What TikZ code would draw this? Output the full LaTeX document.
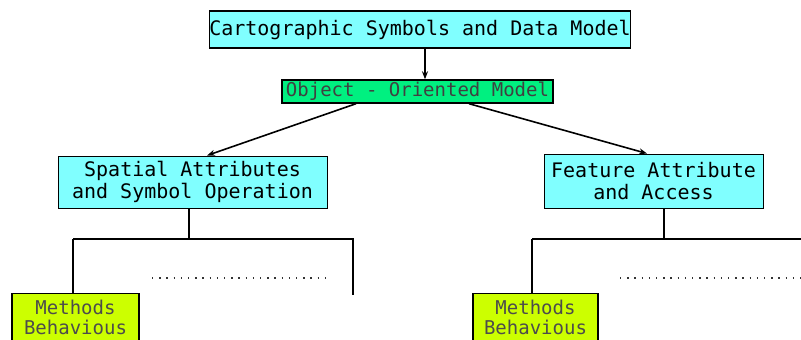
\documentclass[tikz,border=0pt]{standalone}
\usepackage{fontspec}
\newfontfamily\boxfont{DejaVu Sans Mono}
\usetikzlibrary{arrows.meta}
\definecolor{cyanbox}{HTML}{80FFFF}
\definecolor{greenbox}{HTML}{00F080}
\definecolor{limebox}{HTML}{CCFF00}
\begin{document}
\begin{tikzpicture}[x=1pt,y=-1pt,
  box/.style={draw=black, line width=1.4pt, inner sep=0pt, align=center, text=black},
  cyanb/.style={box, fill=cyanbox, font=\boxfont\fontsize{20}{22}\selectfont},
  greenb/.style={box, fill=greenbox, text=black!75, font=\boxfont\fontsize{19}{22}\selectfont},
  limeb/.style={box, fill=limebox, text=black!70, font=\boxfont\fontsize{19}{20}\selectfont},
  conn/.style={line width=1.2pt, black},
  arr/.style={line width=1.6pt, black, -{Stealth[length=8pt,width=6pt]}},
  dots/.style={line width=1.4pt, dash pattern=on 1.4pt off 5.8pt, black!80}]
\useasboundingbox (0,0) rectangle (801,340);
\begin{scope}
\clip (0,0) rectangle (801,340);
\node[cyanb, minimum width=420pt, minimum height=37pt] (top) at (420,29.5) {Cartographic Symbols and Data Model};
\node[greenb, minimum width=271pt, minimum height=23pt] (obj) at (417.5,91.5) {Object - Oriented Model};
\node[cyanb, line width=1pt, minimum width=269pt, minimum height=52pt] (sp) at (192.5,182) {Spatial Attributes\\and Symbol Operation};
\node[cyanb, line width=1pt, minimum width=219pt, minimum height=54pt] (fe) at (653.5,181) {Feature Attribute\\ and Access};
\node[limeb, minimum width=127pt, minimum height=48pt] (ml) at (75.5,317.5) {Methods\\Behavious};
\node[limeb, minimum width=125pt, minimum height=48pt] (mr) at (535.5,317.5) {Methods\\Behavious};

\draw[arr] ([xshift=5pt]top.south) -- ([xshift=7.5pt]obj.north);
\draw[arr] ([xshift=-61.5pt]obj.south) -- ([xshift=14.5pt]sp.north);
\draw[arr] ([xshift=51.5pt]obj.south) -- ([xshift=-6.5pt]fe.north);

% left tree
\coordinate (jl) at (189,239);
\coordinate (ll) at (73,239);
\coordinate (rl) at (353,239);
\coordinate (rle) at (353,295);
\draw[conn] ([xshift=-3.5pt]sp.south) -- (jl);
\draw[conn] (ll) -- (rl) -- (rle);
\draw[conn] (ll) -- (ll |- ml.north);
\coordinate (dl1) at (152,278);
\coordinate (dl2) at (331,278);
\draw[dots] (dl1) -- (dl2);

% right tree
\coordinate (jr) at (664,239);
\coordinate (lr) at (532,239);
\coordinate (rr) at (810,239);
\draw[conn] ([xshift=10.5pt]fe.south) -- (jr);
\draw[conn] (lr) -- (rr);
\draw[conn] (lr) -- (lr |- mr.north);
\coordinate (dr1) at (620,278);
\coordinate (dr2) at (805,278);
\draw[dots] (dr1) -- (dr2);
\end{scope}
\end{tikzpicture}
\end{document}
